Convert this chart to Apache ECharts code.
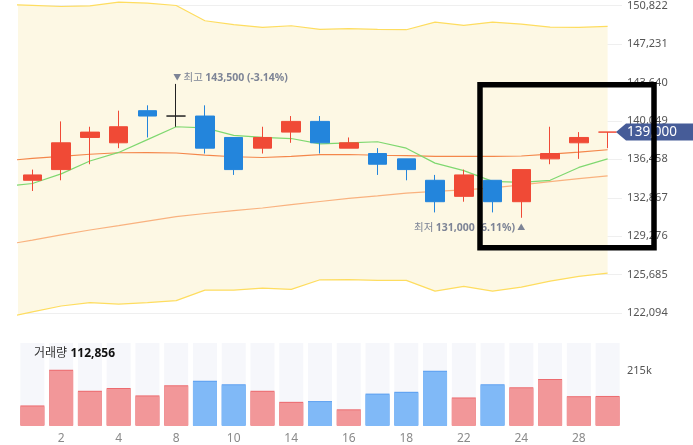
<!DOCTYPE html>
<html><head><meta charset="utf-8">
<script src="https://cdn.jsdelivr.net/npm/echarts@6/dist/echarts.min.js"></script>
<style>html,body{margin:0;padding:0;background:#fff}#c{width:693px;height:445px}</style>
</head><body><div id="c"></div>
<script>
// ---- data ----
const dates  = ['1','2','3','4','7','8','9','10','11','14','15','16','17','18','21','22','23','24','25','28','29'];
const opens  = [134500,135500,138500,138000,141000,140500,140500,138500,137500,139000,140000,137500,137000,136500,134500,133000,134500,132500,136500,138000,139000];
const closes = [135000,138000,139000,139500,140500,140500,137500,135500,138500,140000,138000,138000,136000,135500,132500,135000,132500,135500,137000,138500,139000];
const lows   = [133500,134500,136000,137500,138500,139500,137000,135000,137000,138000,137000,137500,135000,134500,131500,132500,131500,131000,136000,136500,137500];
const highs  = [135500,140000,139500,141000,141500,143500,141500,138500,139500,140500,140500,138500,137500,136500,135000,135500,134500,135500,139500,139000,139000];
const volumes   = [76000,215000,133000,144000,115000,154000,172000,158000,133000,90000,93000,61000,122000,129000,211000,107000,158000,147000,179000,112000,112856];
const volumeDir = ['up','up','up','up','up','up','down','down','up','up','down','up','down','down','down','up','down','up','up','up','up'];
// line series: first value belongs to the (clipped) day before the window
const ma5       = [133900,134200,135100,136300,137100,138300,139500,139400,138700,138500,138400,137900,138000,138100,137500,136100,135400,134400,134300,134500,135700,136500];
const ma20      = [136300,136550,136730,136930,137070,137080,137050,136850,136700,136630,136730,136900,136910,136840,136800,136730,136730,136730,136770,136940,137130,137350];
const maLong    = [128450,128920,129400,129860,130260,130680,131100,131400,131660,131910,132220,132520,132820,133050,133300,133470,133610,133800,134080,134380,134660,134910];
const bandUpper = [150930,150840,150730,150790,151130,151040,150820,149400,149030,148780,148930,148590,148660,148590,148560,149270,148960,149270,149080,148800,148780,148870];
const bandLower = [121650,122210,122760,123070,122940,123070,123260,124240,124240,124430,124310,125210,125220,125150,125150,124150,124590,124150,124520,125080,125520,125830];
const priceTicks = [122094,125685,129276,132867,136458,140049,143640,147231,150822];
const volumeTickLabel = 215000;

// ---- chart ----
const FONT = '"Noto Sans","Noto Sans CJK KR",sans-serif';
const step = priceTicks[1] - priceTicks[0];
const fmt = v => v.toLocaleString('en-US');
const pairs = arr => arr.map((v, i) => [i - 1, v]);
const last = closes[closes.length - 1];
let maxI = 0, minI = 0;
highs.forEach((h, i) => { if (h > highs[maxI]) maxI = i; });
lows.forEach((l, i) => { if (l < lows[minI]) minI = i; });
const pct = v => ((last - v) / v * 100).toFixed(2);

const UP = '#f04a36', DOWN = '#2385dc';
const candleData = opens.map((o, i) => {
  const item = { value: [o, closes[i], lows[i], highs[i]] };
  if (o === closes[i] && i > 0 && closes[i - 1] === closes[i]) {
    item.itemStyle = { color: '#3a3a3a', color0: '#3a3a3a', borderColor: '#222', borderColor0: '#222', borderColorDoji: '#222' };
  }
  return item;
});
const volData = volumes.map((v, i) => ({
  value: v,
  itemStyle: volumeDir[i] === 'up'
    ? { color: '#f29799', shadowColor: '#ec6b6f', shadowOffsetY: -1, shadowBlur: 0 }
    : { color: '#80b9f7', shadowColor: '#5b9ff0', shadowOffsetY: -1, shadowBlur: 0 }
}));
const markColor = '#7d8496';
const bandLine = '#fedd60';
const lineBase = { type: 'line', xAxisIndex: 1, yAxisIndex: 0, symbol: 'none', silent: true, clip: true, z: 2 };
const markRich = {
  t: { fontSize: 8, color: markColor, fontFamily: FONT },
  s: { fontSize: 9 },
  k: { fontSize: 10.5, color: markColor, fontFamily: FONT },
  v: { fontSize: 10.5, fontWeight: 'bold', color: markColor, fontFamily: FONT }
};

const chart = echarts.init(document.getElementById('c'));
chart.setOption({
  animation: false,
  textStyle: { fontFamily: FONT },
  grid: [
    { left: 18, right: 71, top: 0, height: 351.6 },
    { left: 18, right: 71, top: 343, height: 90 }
  ],
  xAxis: [
    { type: 'category', gridIndex: 0, data: dates, boundaryGap: true, show: false },
    { type: 'value', gridIndex: 0, min: -0.5, max: 20.5, show: false },
    { type: 'category', gridIndex: 1, data: dates, boundaryGap: true,
      axisLine: { show: false }, axisTick: { show: false }, splitLine: { show: false },
      axisLabel: { interval: (i) => i % 2 === 1, color: '#8a8a8a', fontSize: 12, margin: 7, fontFamily: FONT } }
  ],
  yAxis: [
    { type: 'value', gridIndex: 0, position: 'right', min: priceTicks[0] - step, max: 151194, interval: step,
      axisLine: { show: false }, axisTick: { show: false },
      axisLabel: { showMinLabel: false, showMaxLabel: false, color: '#555', fontSize: 11, margin: 5, fontFamily: FONT, formatter: v => fmt(v) },
      splitLine: { show: true, showMinLine: false, showMaxLine: false, lineStyle: { color: '#efefef', width: 1 } } },
    { type: 'value', gridIndex: 1, position: 'right', min: 0, max: volumeTickLabel * 1.5, interval: volumeTickLabel,
      axisLine: { show: false }, axisTick: { show: false }, splitLine: { show: false },
      axisLabel: { color: '#555', fontSize: 11, margin: 5, fontFamily: FONT, formatter: v => v === volumeTickLabel ? Math.round(v / 1000) + 'k' : '' } }
  ],
  series: [
    {
      type: 'custom', xAxisIndex: 1, yAxisIndex: 0, z: 1, silent: true,
      data: [[0, bandUpper[1]]],
      renderItem: (params, api) => {
        const pts = [];
        bandUpper.forEach((v, i) => pts.push(api.coord([i - 1, v])));
        for (let i = bandLower.length - 1; i >= 0; i--) pts.push(api.coord([i - 1, bandLower[i]]));
        const cs = params.coordSys;
        return { type: 'polygon', shape: { points: pts }, style: { fill: '#fdf8e4' },
          clipPath: { type: 'rect', shape: { x: cs.x, y: cs.y, width: cs.width, height: cs.height } } };
      }
    },
    Object.assign({}, lineBase, { name: 'bandLower', data: pairs(bandLower), lineStyle: { color: bandLine, width: 1.2 } }),
    Object.assign({}, lineBase, { name: 'bandUpper', data: pairs(bandUpper), lineStyle: { color: bandLine, width: 1.2 } }),
    Object.assign({}, lineBase, { name: 'maLong', data: pairs(maLong), lineStyle: { color: '#f9b27f', width: 1.2 } }),
    Object.assign({}, lineBase, { name: 'ma20', data: pairs(ma20), lineStyle: { color: '#f4874b', width: 1.2 } }),
    Object.assign({}, lineBase, { name: 'ma5', data: pairs(ma5), lineStyle: { color: '#7fd870', width: 1.2 } }),
    {
      type: 'candlestick', xAxisIndex: 0, yAxisIndex: 0, z: 3, barWidth: 19, silent: true,
      data: candleData,
      itemStyle: { color: UP, color0: DOWN, borderColor: UP, borderColor0: DOWN, borderColorDoji: UP, borderWidth: 1 },
      markPoint: {
        symbol: 'circle', symbolSize: 0.01, silent: true, itemStyle: { color: 'rgba(0,0,0,0)' },
        data: [
          { coord: [maxI, highs[maxI]],
            label: { show: true, position: 'right', distance: 0, offset: [-3, -6],
              formatter: '{t|▼}{s| }{k|최고}{s| }{v|' + fmt(highs[maxI]) + ' (' + pct(highs[maxI]) + '%)}',
              rich: markRich } },
          { coord: [minI, lows[minI]],
            label: { show: true, position: 'left', distance: 0, offset: [4, 10],
              formatter: '{k|최저}{s| }{v|' + fmt(lows[minI]) + ' (' + pct(lows[minI]) + '%)}{s| }{t|▲}',
              rich: markRich } }
        ]
      }
    },
    {
      type: 'bar', xAxisIndex: 2, yAxisIndex: 1, barWidth: 24, silent: true,
      showBackground: true, backgroundStyle: { color: '#f6f7fb' },
      data: volData
    }
  ]
});

const py = chart.convertToPixel({ yAxisIndex: 0 }, last);
chart.setOption({
  graphic: [
    { type: 'text', left: 34, top: 348, z: 10,
      style: { text: '{a|거래량} {b|' + fmt(volumes[volumes.length - 1]) + '}',
        rich: { a: { fontSize: 12, fill: '#333', fontFamily: FONT }, b: { fontSize: 12, fontWeight: 'bold', fill: '#111', fontFamily: FONT } } } },
    { type: 'polygon', z: 20, shape: { points: [[616, py], [626, py - 8.5], [693, py - 8.5], [693, py + 8.5], [626, py + 8.5]] },
      style: { fill: '#465c98' } },
    { type: 'text', z: 21, x: 627, y: py, style: { text: fmt(last), fill: '#fff', fontSize: 13.5, fontFamily: FONT, verticalAlign: 'middle' } },
    { type: 'rect', z: 30, shape: { x: 480, y: 84.7, width: 174, height: 163 },
      style: { fill: 'none', stroke: '#000', lineWidth: 5.5 } }
  ]
});
</script></body></html>
